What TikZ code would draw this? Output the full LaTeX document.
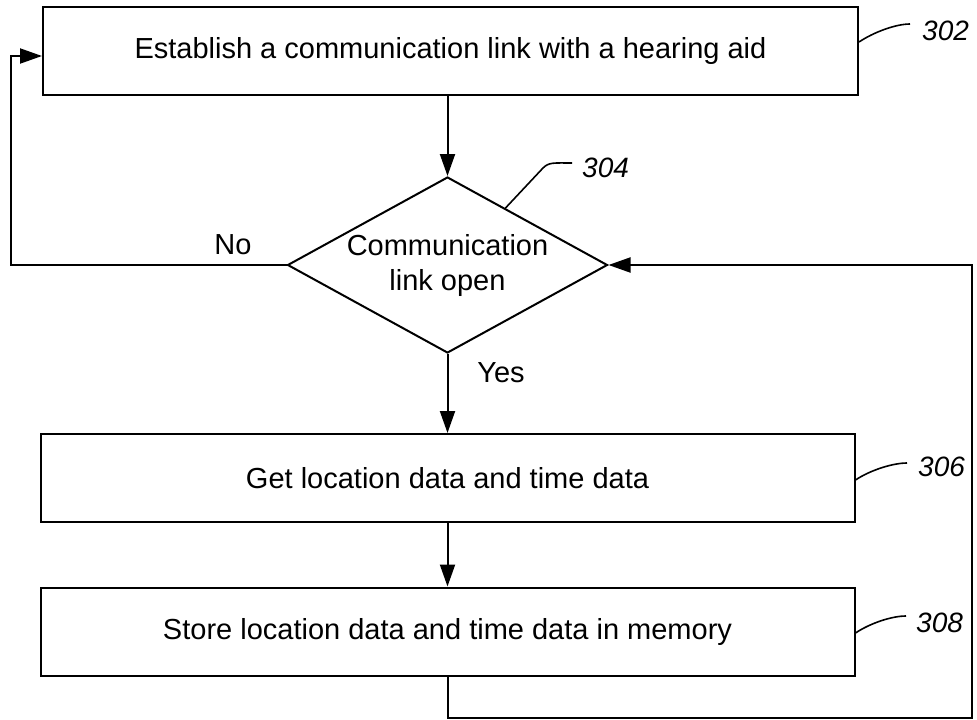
\documentclass[tikz,border=0pt]{standalone}
\usepackage{fontspec}
\setmainfont{Liberation Sans}
\usetikzlibrary{arrows.meta,shapes.geometric,calc}
\begin{document}
\begin{tikzpicture}[x=1pt,y=-1pt,
  stepbox/.style={draw,line width=2pt,minimum width=815pt,minimum height=88pt,inner sep=0pt,font=\fontsize{29}{35}\selectfont},
  decision/.style={draw,diamond,line width=2pt,shape aspect=1.82,minimum width=320pt,minimum height=176pt,inner sep=0pt,align=center,font=\fontsize{29}{35}\selectfont},
  conn/.style={line width=2pt,-{Triangle[length=22pt,width=15pt]}},
  leader/.style={line width=1.6pt},
  reflabel/.style={font=\fontsize{28}{30}\selectfont\itshape,inner sep=0pt,anchor=west},
  yn/.style={font=\fontsize{29}{35}\selectfont,inner sep=0pt}]
\useasboundingbox (0,0) rectangle (977,720);

\node[stepbox] (b302) at (450.5,51) {Establish a communication link with a hearing aid};
\node[decision] (dec) at (447.5,265) {Communication\\link open};
\node[stepbox,minimum width=814pt] (b306) at (447.5,478) {Get location data and time data};
\node[stepbox,minimum width=814pt] (b308) at (447.5,631.5) {Store location data and time data in memory};

\node[yn] (no) at (233,245) {No};
\node[yn] (yes) at (501,373) {Yes};

\node[reflabel] (l302) at (922,30.5) {302};
\node[reflabel] (l304) at (582,168) {304};
\node[reflabel] (l306) at (918,467) {306};
\node[reflabel] (l308) at (916,623) {308};

\coordinate (nocorner) at (11,265);
\coordinate (loopcorner) at (972,718);

\draw[conn] (b302.south -| dec.north) -- (dec.north);
\draw[conn] (dec.south) -- (b306.north);
\draw[conn] (b306.south) -- (b308.north);
\draw[conn] (dec.west) -- (nocorner) |- ([yshift=-5pt]b302.west);
\draw[conn] (b308.south) |- (loopcorner) |- (dec.east);

\draw[leader] ([yshift=9pt]b302.east) .. controls +(15,-10) and +(-14,0) .. ([xshift=-12pt,yshift=6.5pt]l302.west);
\draw[leader] ($(dec.north)!0.36!(dec.east)$) -- (543,168) .. controls (549,162) and (554,163) .. ([xshift=-10pt,yshift=5pt]l304.west);
\draw[leader] ([yshift=-2pt]b306.east) .. controls +(15,-10) and +(-14,0) .. ([xshift=-11pt,yshift=4pt]l306.west);
\draw[leader] ([yshift=-1.5pt]b308.east) .. controls +(15,-10) and +(-14,0) .. ([xshift=-10pt,yshift=7pt]l308.west);
\end{tikzpicture}
\end{document}
